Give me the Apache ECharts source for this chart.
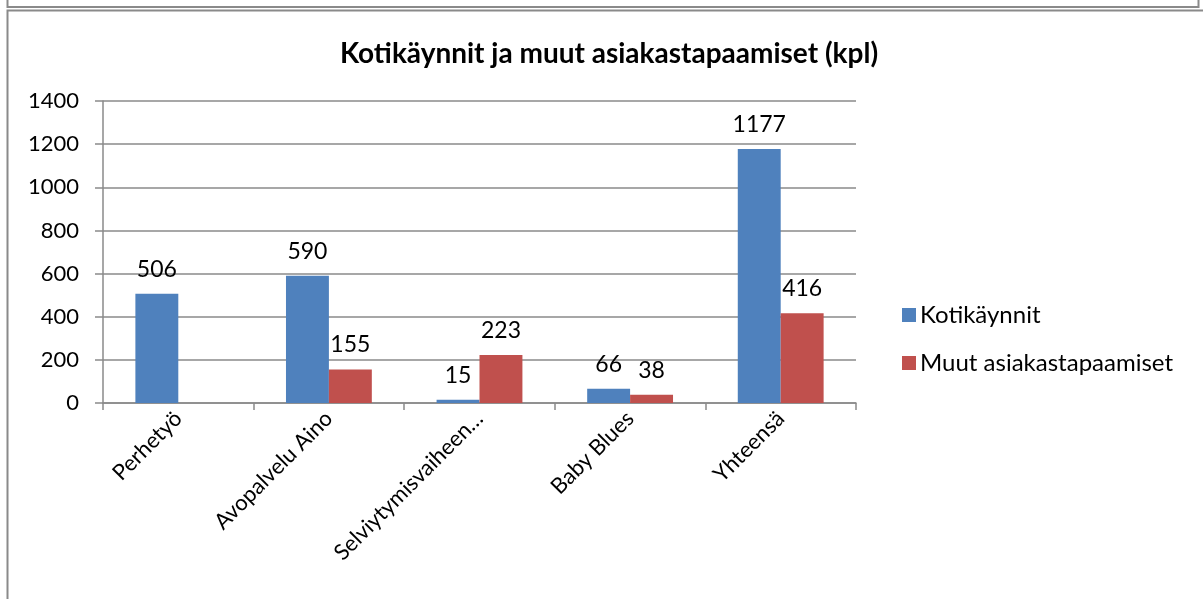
<!DOCTYPE html>
<html>
<head>
<meta charset="utf-8">
<script src="https://cdn.jsdelivr.net/npm/echarts@6/dist/echarts.min.js"></script>
<style>
  html, body { margin: 0; padding: 0; background: #fff; }
  #chart { width: 1203px; height: 599px; }
</style>
</head>
<body>
<div id="chart"></div>
<script>
// Chart data
const categories = ['Perhetyö', 'Avopalvelu Aino', 'Selviytymisvaiheen…', 'Baby Blues', 'Yhteensä'];
const kotikaynnit = [506, 590, 15, 66, 1177];
const muutTapaamiset = ['-', 155, 223, 38, 416];
const yTicks = [0, 200, 400, 600, 800, 1000, 1200, 1400];

const blue = '#4F81BD';
const red = '#C0504D';
const gridGray = '#8a8a8a';
const font = 'Lato, "Open Sans", sans-serif';

var chart = echarts.init(document.getElementById('chart'));

const labelStyle = {
  show: true,
  position: 'top',
  distance: 13,
  color: '#000',
  fontSize: 23,
  fontFamily: font
};

option = {
  animation: false,
  backgroundColor: '#fff',
  title: {
    text: 'Kotikäynnit ja muut asiakastapaamiset (kpl)',
    left: 604,
    textAlign: 'center',
    top: 35,
    textStyle: { fontSize: 28, fontWeight: 'bold', color: '#000', fontFamily: font }
  },
  legend: {
    orient: 'vertical',
    left: 897,
    top: 298,
    itemWidth: 14,
    itemHeight: 14,
    itemGap: 24,
    icon: 'rect',
    textStyle: { fontSize: 24, lineHeight: 24, color: '#000', fontFamily: font, padding: [0, 0, 0, -1] },
    data: ['Kotikäynnit', 'Muut asiakastapaamiset']
  },
  grid: {
    left: 103,
    right: 347,
    top: 101,
    bottom: 196,
    containLabel: false
  },
  xAxis: {
    type: 'category',
    data: categories,
    axisLine: { lineStyle: { color: gridGray, width: 1.5 } },
    axisTick: { show: true, length: 7, lineStyle: { color: gridGray, width: 1.5 } },
    axisLabel: {
      rotate: 45,
      interval: 0,
      margin: 12,
      fontSize: 22,
      color: '#000',
      fontFamily: font
    }
  },
  yAxis: {
    type: 'value',
    min: 0,
    max: 1400,
    interval: 200,
    axisLine: { show: true, lineStyle: { color: gridGray, width: 1.5 } },
    axisTick: { show: true, length: 8, lineStyle: { color: gridGray, width: 1.5 } },
    splitLine: { lineStyle: { color: gridGray, width: 1.5 } },
    axisLabel: {
      margin: 24,
      fontSize: 22,
      color: '#000',
      fontFamily: font,
      formatter: function (v) { return yTicks.indexOf(v) >= 0 ? String(v) : ''; }
    }
  },
  graphic: [
    {
      type: 'rect',
      shape: { x: 7.5, y: -10, width: 1191, height: 17 },
      style: { fill: 'none', stroke: '#8a8a8a', lineWidth: 2 }
    },
    {
      type: 'rect',
      shape: { x: 7.5, y: 10.5, width: 1210, height: 610 },
      style: { fill: 'none', stroke: '#8a8a8a', lineWidth: 2 }
    }
  ],
  series: [
    {
      name: 'Kotikäynnit',
      type: 'bar',
      data: kotikaynnit,
      barGap: '0%',
      barCategoryGap: '43%',
      itemStyle: { color: blue },
      label: labelStyle
    },
    {
      name: 'Muut asiakastapaamiset',
      type: 'bar',
      data: muutTapaamiset,
      barGap: '0%',
      barCategoryGap: '43%',
      itemStyle: { color: red },
      label: labelStyle
    }
  ]
};

chart.setOption(option);
</script>
</body>
</html>
